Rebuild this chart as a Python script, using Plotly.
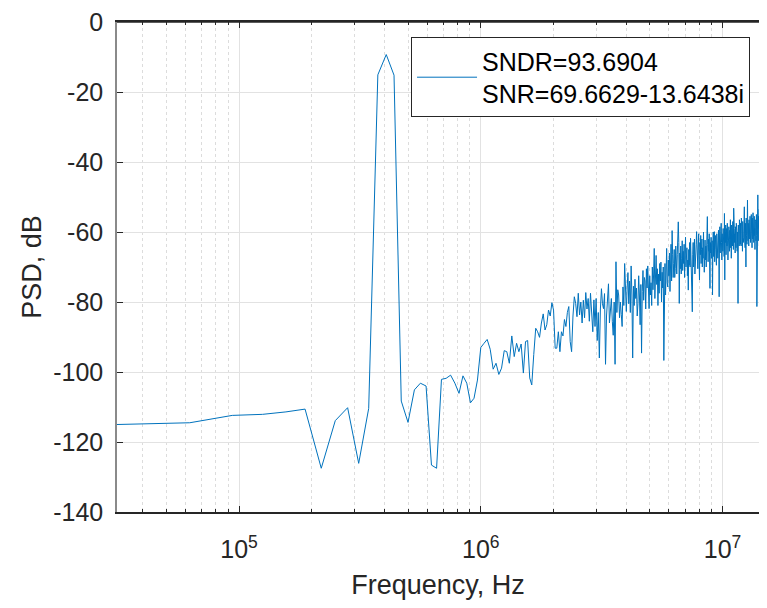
import plotly.graph_objects as go

# FFT bin spacing (Hz) and PSD values (dB), one per bin k = 1..512
bin_width_hz = 31250

psd_db = [
    -115.0, -114.5, -112.4, -112.1, -111.4, -110.6, -127.5, -113.9, -110.2, -126.1,
    -110.4, -15.1, -9.3, -15.2, -108.3, -114.4, -105.1, -103.2, -104.0, -126.6,
    -127.5, -102.1, -101.8, -100.9, -103.2, -106.1, -101.1, -103.2, -108.8, -107.5,
    -102.3, -93.0, -91.8, -90.7, -93.5, -99.2, -97.5, -100.7, -98.9, -93.9,
    -94.2, -97.5, -89.7, -95.6, -91.8, -94.2, -92.0, -100.3, -91.3, -91.0,
    -101.7, -103.7, -95.0, -87.5, -88.5, -90.1, -86.0, -83.4, -88.0, -86.5,
    -82.3, -84.0, -80.2, -82.3, -93.2, -93.2, -88.5, -94.2, -88.5, -89.7,
    -85.0, -87.0, -83.0, -81.3, -91.3, -94.2, -84.0, -78.5, -80.4, -84.2,
    -77.5, -83.7, -80.0, -86.0, -79.5, -84.5, -77.3, -82.0, -79.0, -85.5,
    -77.5, -81.8, -88.5, -79.4, -87.0, -79.0, -91.0, -83.0, -96.0, -82.0,
    -76.2, -80.5, -81.9, -77.6, -97.8, -84.0, -79.5, -74.8, -86.0, -82.0,
    -79.0, -85.5, -89.5, -80.0, -97.8, -68.5, -83.0, -76.5, -78.0, -84.5,
    -80.0, -83.5, -87.0, -75.7, -81.0, -69.0, -78.5, -82.7, -76.0, -71.6,
    -80.5, -74.0, -83.0, -69.7, -78.0, -96.0, -75.5, -81.0, -73.5, -79.0,
    -76.0, -84.0, -80.5, -72.5, -78.0, -86.5, -75.0, -94.6, -77.0, -71.0,
    -79.5, -73.0, -74.0, -82.0, -70.5, -76.0, -69.7, -80.0, -81.9, -72.5,
    -78.0, -74.5, -81.0, -70.0, -76.5, -72.0, -64.7, -79.0, -73.0, -66.7,
    -75.0, -70.5, -81.0, -72.0, -77.5, -69.0, -74.0, -68.6, -80.0, -71.5,
    -76.0, -70.0, -96.7, -73.5, -69.0, -78.0, -71.0, -64.7, -74.5, -75.7,
    -68.0, -72.5, -66.0, -77.0, -70.0, -63.5, -74.0, -59.6, -66.5, -73.0,
    -69.0, -65.0, -73.0, -70.5, -64.0, -68.0, -72.0, -66.5, -61.0, -57.1,
    -63.0, -80.4, -66.0, -70.5, -64.0, -72.0, -67.5, -62.5, -71.0, -65.5,
    -69.0, -63.5, -73.0, -66.0, -61.5, -70.0, -67.0, -64.5, -72.5, -68.0,
    -76.6, -65.0, -69.5, -63.0, -70.0, -61.8, -68.5, -66.0, -71.5, -82.8,
    -66.5, -63.0, -70.0, -67.5, -62.0, -72.0, -65.5, -68.0, -63.5, -59.9,
    -67.0, -62.5, -70.5, -64.0, -60.5, -68.0, -73.7, -63.0, -66.5, -61.0,
    -69.0, -65.0, -62.0, -70.0, -64.5, -67.5, -60.0, -66.0, -71.5, -63.5,
    -62.3, -68.0, -64.0, -70.0, -61.0, -66.5, -55.6, -63.5, -68.5, -62.0,
    -65.5, -60.5, -69.0, -76.1, -63.0, -66.0, -61.5, -67.5, -64.0, -62.5,
    -78.0, -64.5, -60.0, -67.0, -63.0, -59.9, -68.5, -65.0, -61.0, -66.5,
    -63.5, -69.5, -60.5, -65.0, -62.0, -67.5, -64.0, -59.5, -66.0, -78.5,
    -62.0, -58.5, -66.0, -60.0, -64.5, -57.5, -63.0, -68.0, -60.5, -62.5,
    -65.5, -59.0, -63.5, -61.0, -67.0, -54.7, -73.7, -60.0, -63.0, -58.0,
    -66.5, -61.5, -59.0, -64.0, -57.5, -62.5, -68.0, -60.0, -63.5, -58.5,
    -61.0, -65.5, -59.5, -62.0, -56.5, -64.5, -60.5, -67.5, -58.0, -62.0,
    -60.0, -64.0, -57.0, -61.5, -65.0, -53.2, -62.5, -59.0, -63.0, -60.5,
    -66.0, -58.5, -61.0, -64.5, -57.5, -62.0, -59.5, -65.5, -60.0, -63.0,
    -80.4, -58.0, -62.5, -60.0, -64.0, -56.5, -61.5, -59.0, -63.5, -57.5,
    -60.5, -64.0, -56.0, -62.0, -58.5, -61.0, -65.5, -57.0, -60.0, -63.0,
    -58.5, -61.5, -56.5, -52.8, -62.0, -59.0, -64.5, -57.5, -60.5, -70.0,
    -56.0, -61.0, -58.0, -63.5, -57.0, -50.9, -60.0, -62.5, -57.5, -59.5,
    -64.0, -56.5, -60.5, -58.0, -62.0, -55.5, -59.0, -63.0, -57.0, -60.5,
    -55.0, -61.5, -58.5, -64.5, -56.0, -59.5, -62.0, -54.5, -60.0, -57.5,
    -63.0, -58.0, -55.5, -61.0, -59.0, -65.0, -56.5, -60.0, -57.0, -62.5,
    -58.5, -55.0, -61.0, -81.3, -57.5, -60.0, -56.0, -49.4, -59.0, -62.0,
    -55.5, -62.5, -57.0, -53.5, -64.0, -58.0, -55.0, -63.5, -56.5, -60.0,
    -54.0, -61.0, -57.5, -52.5, -66.0, -56.0, -63.0, -55.0, -59.5, -62.5,
    -53.0, -58.5, -65.0, -55.5, -49.5, -58.0, -63.5, -54.5, -60.0, -66.5,
    -56.0, -52.0, -61.5, -57.5, -54.0, -64.0, -55.5, -59.5, -67.0, -53.5,
    -58.0, -50.5, -62.5, -56.0, -64.5, -54.5, -60.0, -55.0, -65.0, -56.5,
    -52.5, -61.0, -57.0, -66.0, -54.0, -59.5, -55.5, -50.5, -63.0, -57.0,
    -53.5, -60.0,
]

freq_hz = [bin_width_hz * k for k in range(1, len(psd_db) + 1)]

legend_label = "SNDR=93.6904<br>SNR=69.6629-13.6438i"
x_major = [1e5, 1e6, 1e7]
x_major_text = ["10<sup>5</sup>", "10<sup>6</sup>", "10<sup>7</sup>"]
x_minor = [m * 10 ** e for e in (4, 5, 6) for m in range(2, 10)]
y_ticks = [0, -20, -40, -60, -80, -100, -120, -140]
y_tick_text = ["0", "-20", "-40", "-60", "-80", "-100", "-120", "-140"]

FONT = "Liberation Sans, Arial, Helvetica, sans-serif"
AX = "#262626"

fig = go.Figure()
fig.add_trace(go.Scatter(
    x=freq_hz, y=psd_db, mode="lines", name=legend_label,
    line=dict(color="#0072BD", width=1), showlegend=True,
))

# the page body adds an 8px offset; keep the page within the window (no scrollbars)
fig.update_layout(
    width=751, height=592,
    margin=dict(l=109, r=0, t=14, b=88, autoexpand=False),
    paper_bgcolor="white", plot_bgcolor="white",
    font=dict(family=FONT, color=AX),
    showlegend=True,
    legend=dict(
        x=0.458, y=0.969, xanchor="left", yanchor="top",
        bgcolor="white", bordercolor=AX, borderwidth=1,
        font=dict(size=25, color="black", family=FONT),
        itemwidth=60, valign="middle", tracegroupgap=0,
    ),
    xaxis=dict(
        type="log", automargin=False,
        range=[4.4949, 7.151],
        tickmode="array", tickvals=x_major, ticktext=x_major_text,
        ticks="inside", ticklen=6, tickwidth=1.2, tickcolor=AX,
        tickfont=dict(size=25, color=AX),
        showline=True, linecolor=AX, linewidth=2, mirror="allticks",
        showgrid=True, gridcolor="#e2e2e2", gridwidth=1,
        minor=dict(tickmode="array", tickvals=x_minor, ticks="inside", ticklen=3,
                   tickcolor=AX, tickwidth=1, showgrid=True,
                   gridcolor="#dcdcdc", griddash="dot", gridwidth=1),
        zeroline=False,
        ticklabelstandoff=14, ticklabeloverflow="allow",
        title=dict(text="Frequency, Hz", font=dict(size=27, color=AX), standoff=14),
    ),
    yaxis=dict(
        automargin=False,
        range=[-140, 0],
        tickmode="array", tickvals=y_ticks, ticktext=y_tick_text,
        ticks="inside", ticklen=6, tickwidth=1.2, tickcolor=AX,
        tickfont=dict(size=25, color=AX),
        showline=True, linecolor="#8a8a8a", linewidth=1.5, mirror=False,
        showgrid=True, gridcolor="#e2e2e2", gridwidth=1,
        zeroline=False,
        ticklabelstandoff=7, ticklabeloverflow="allow",
        title=dict(text="PSD, dB", font=dict(size=27, color=AX), standoff=4),
    ),
    shapes=[
        dict(type="line", xref="paper", yref="paper", x0=0, x1=1, y0=1, y1=1,
             line=dict(color=AX, width=1.5), layer="above"),
    ],
)

fig.write_html("out.html")
